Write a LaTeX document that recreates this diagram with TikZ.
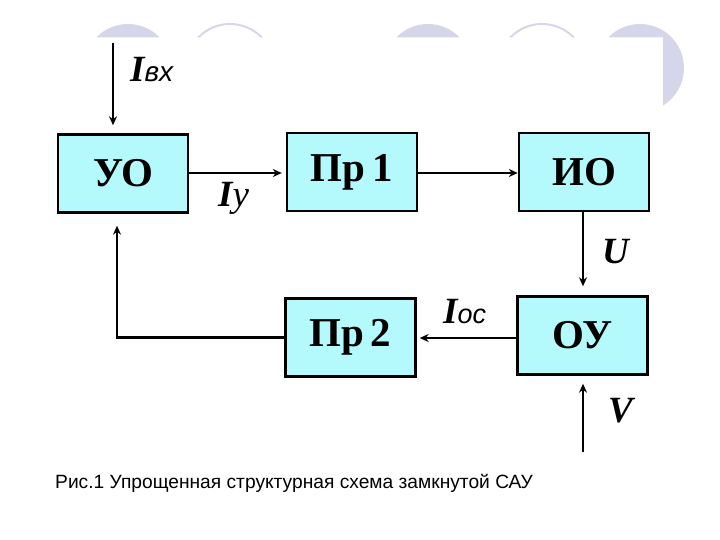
\documentclass[tikz,border=0pt]{standalone}
\usepackage{fontspec}
\setmainfont{Liberation Serif}
\newfontfamily\capfont{Liberation Sans}
\usetikzlibrary{arrows.meta}

\definecolor{blokfill}{RGB}{180,250,252}
\definecolor{krug}{RGB}{214,214,234}

\newcommand{\ind}[1]{{\mdseries\capfont\itshape #1}}

\tikzset{
  blok/.style={draw, line width=2.4pt, fill=blokfill, minimum width=130pt,
    minimum height=78pt, font=\fontsize{41}{44}\selectfont\bfseries},
  strel/.style={line width=2.2pt, -{Stealth[length=9pt,width=8pt]}},
  lbl/.style={inner sep=0pt, font=\fontsize{37}{40}\selectfont\bfseries\itshape},
}

\begin{document}
\begin{tikzpicture}[x=1pt,y=-1pt]
  \useasboundingbox (0,0) rectangle (720,540);

  % circles of the slide
  \begin{scope}
    \clip (0,0) -- (720,0) -- (720,110) -- (663,110) -- (663,37.5) -- (0,37.5) -- cycle;
    \fill[krug] (128,68) circle (44);
    \draw[krug, line width=2pt] (230,68) circle (44);
    \fill[krug] (428,68) circle (44);
    \draw[krug, line width=2pt] (542,68) circle (44);
    \fill[krug] (640,68) circle (44);
  \end{scope}

  % blocks
  \node[blok] (uo)  at (123,173.5) {УО};
  \node[blok] (pr1) at (352,172)   {Пр\,1};
  \node[blok] (io)  at (584,172)   {ИО};
  \node[blok] (ou)  at (582.5,335.5) {ОУ};
  \node[blok] (pr2) at (350.5,337.5) {Пр\,2};

  \coordinate (vx) at (113,43);
  \coordinate (vv) at (583,452);
  \coordinate (ugol) at (117,337.5);

  % connections
  \draw[strel, shorten >=8pt] (vx) -- (vx |- uo.north);
  \draw[strel, shorten >=4pt] (uo.east |- 0,173) -- (pr1.west |- 0,173);
  \draw[strel] (pr1.east |- 0,173) -- (io.west |- 0,173);
  \draw[strel, shorten >=9pt] (io.south -| vv) -- (ou.north -| vv);
  \draw[strel, shorten >=3pt] (ou.west |- 0,338) -- (pr2.east |- 0,338);
  \draw[strel, shorten >=8pt] (vv) -- (ou.south -| vv);
  \draw[strel, shorten >=12pt] (pr2.west) -- (ugol) -- (ugol |- uo.south);

  % labels
  \node[lbl, anchor=base west] (lvx) at (130,82) {I\ind{\fontsize{28}{28}\selectfont вх}};
  \node[lbl, anchor=base west] (ly) at (218,207) {I{\mdseries у}};
  \node[lbl, anchor=base west] (lu) at (602,263) {U};
  \node[lbl, anchor=base west] (lv) at (608,422) {V};
  \node[lbl, anchor=base west] (los) at (443,323) {I\ind{\fontsize{27}{27}\selectfont ос}};

  \node[anchor=base west, inner sep=0pt, font=\capfont\fontsize{19.2}{22}\selectfont]
    (cap) at (55,488) {Рис.1 Упрощенная структурная схема замкнутой САУ};
\end{tikzpicture}
\end{document}
